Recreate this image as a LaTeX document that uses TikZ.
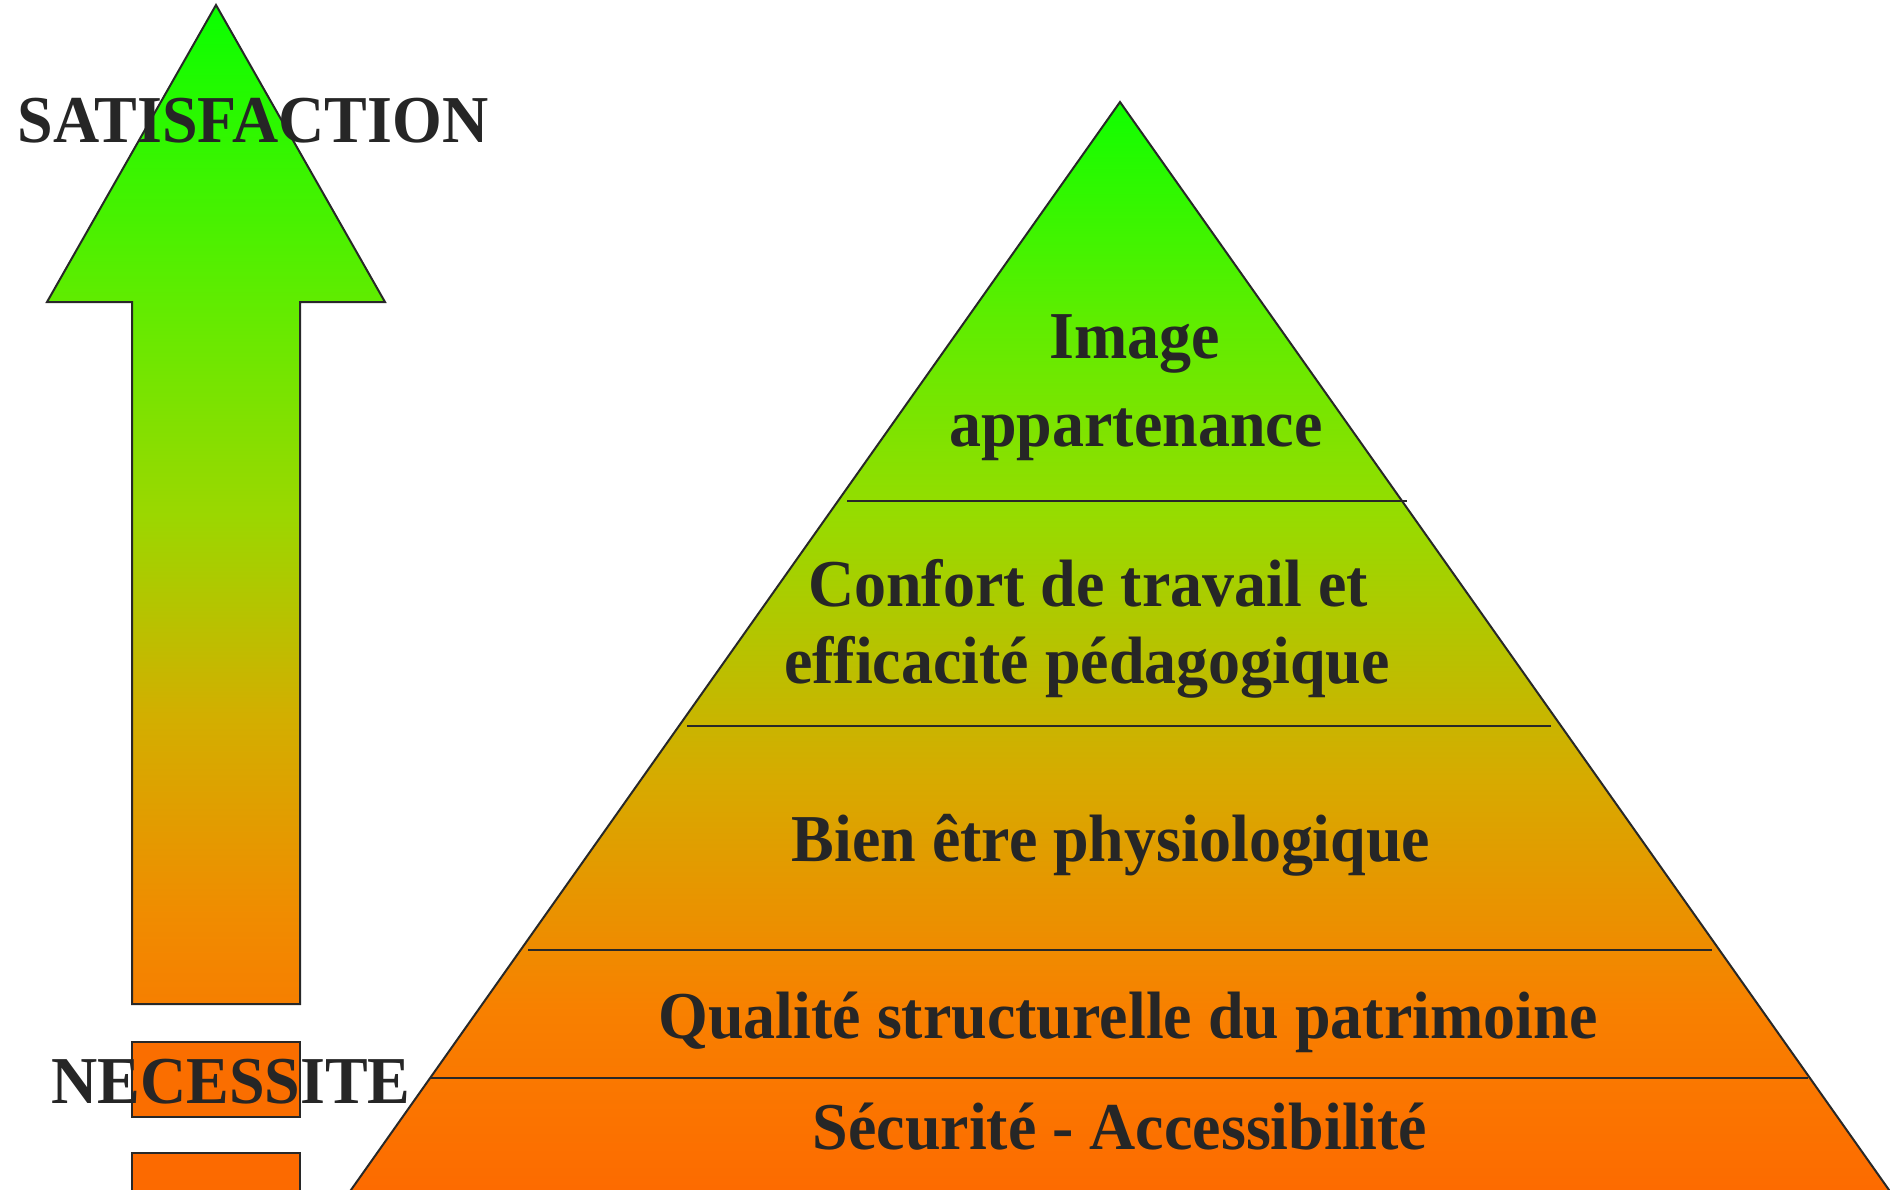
\documentclass[tikz,border=0pt]{standalone}
\usepackage{fontspec}
\newfontfamily\lblfont[FakeStretch=0.955]{Liberation Serif}
\definecolor{txt}{RGB}{38,38,38}
\definecolor{edge}{RGB}{40,40,40}
\definecolor{boxA}{RGB}{250,110,0}
\definecolor{boxB}{RGB}{252,106,0}
% arrow gradient stops
\definecolor{a0}{RGB}{246,127,0}
\definecolor{a1}{RGB}{240,140,0}
\definecolor{a2}{RGB}{210,175,0}
\definecolor{a3}{RGB}{155,215,0}
\definecolor{a4}{RGB}{100,235,0}
\definecolor{a5}{RGB}{10,255,0}
% pyramid gradient stops
\definecolor{p0}{RGB}{253,106,0}
\definecolor{p1}{RGB}{248,128,0}
\definecolor{p2}{RGB}{215,170,0}
\definecolor{p3}{RGB}{150,220,0}
\definecolor{p4}{RGB}{95,237,0}
\definecolor{p5}{RGB}{16,255,0}
\pgfdeclareverticalshading{arrowshade}{100bp}{color(0bp)=(a0); color(25bp)=(a0); color(29.5bp)=(a1); color(39.5bp)=(a2); color(49.5bp)=(a3); color(59.5bp)=(a4); color(75bp)=(a5); color(100bp)=(a5)}
\pgfdeclareverticalshading{pyrshade}{100bp}{color(0bp)=(p0); color(25bp)=(p0); color(33.5bp)=(p1); color(44bp)=(p2); color(56.25bp)=(p3); color(65bp)=(p4); color(75bp)=(p5); color(100bp)=(p5)}
\tikzset{
  lbl/.style={font=\lblfont\bfseries\fontsize{67}{80}\selectfont, text=txt, inner sep=0pt, anchor=base},
  outline/.style={draw=edge, line width=2pt, line join=miter},
  tier/.style={draw=edge, line width=1.6pt}
}
\begin{document}
\begin{tikzpicture}[x=1pt, y=-1pt]
\useasboundingbox (0,0) rectangle (1890,1189);
\clip (0,0) rectangle (1890,1189);
% arrow
\shade[shading=arrowshade, outline] (216,5) -- (385,302) -- (300,302) -- (300,1004) -- (132,1004) -- (132,302) -- (47,302) -- cycle;
\fill[boxA, draw=edge, line width=2pt] (132,1042) rectangle (300,1117);
\fill[boxB, draw=edge, line width=2pt] (132,1153) rectangle (300,1200);
% pyramid
\shade[shading=pyrshade, outline] (1120,102) -- (1894,1197) -- (346,1197) -- cycle;
\draw[tier] (847,501) -- (1407,501);
\draw[tier] (687,726) -- (1551,726);
\draw[tier] (528,950) -- (1712,950);
\draw[tier] (430,1078) -- (1808,1078);
% labels
\node[lbl] (sat) at (253,142) {SATISFACTION};
\node[lbl] (nec) at (231,1103) {NECESSITE};
\node[lbl] (img1) at (1135,358) {Image};
\node[lbl] (img2) at (1136,446) {appartenance};
\node[lbl] (conf1) at (1088,606) {Confort de travail et};
\node[lbl] (conf2) at (1087,683) {efficacité pédagogique};
\node[lbl] (bien) at (1111,861) {Bien être physiologique};
\node[lbl] (qual) at (1128,1038) {Qualité structurelle du patrimoine};
\node[lbl] (secu) at (1120,1149) {Sécurité - Accessibilité};
\end{tikzpicture}
\end{document}
